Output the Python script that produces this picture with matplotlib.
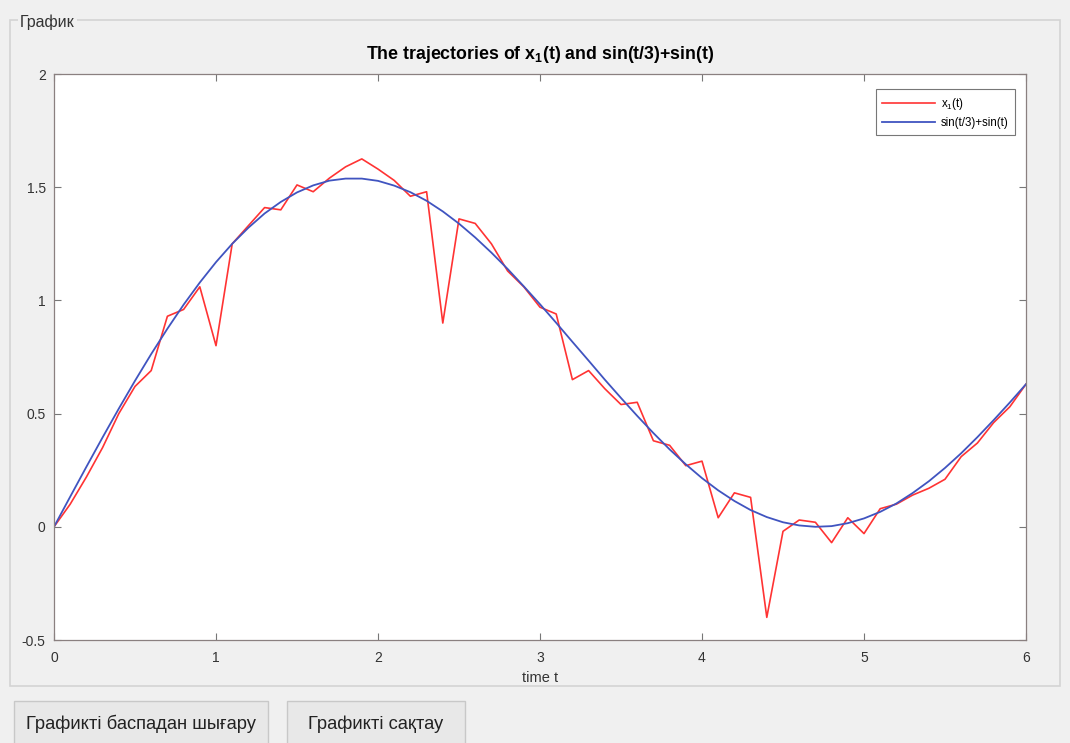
import matplotlib
matplotlib.use('Agg')
import matplotlib.pyplot as plt
from matplotlib.patches import Rectangle

# time grid (step 0.1)
t = [i / 10 for i in range(61)]

# x1(t)
x1 = [0.00, 0.10, 0.22, 0.35, 0.50, 0.62, 0.69, 0.93, 0.96, 1.06,
      0.80, 1.25, 1.33, 1.41, 1.40, 1.51, 1.48, 1.54, 1.59, 1.625,
      1.58, 1.53, 1.46, 1.48, 0.90, 1.36, 1.34, 1.25, 1.13, 1.06,
      0.97, 0.94, 0.65, 0.69, 0.61, 0.54, 0.55, 0.38, 0.36, 0.27,
      0.29, 0.04, 0.15, 0.13, -0.40, -0.02, 0.03, 0.02, -0.07, 0.04,
      -0.03, 0.08, 0.10, 0.14, 0.17, 0.21, 0.31, 0.37, 0.46, 0.53,
      0.63]

# sin(t/3)+sin(t)
ref = [0.000, 0.133, 0.265, 0.395, 0.522, 0.645, 0.763, 0.875, 0.981, 1.079,
       1.169, 1.250, 1.321, 1.384, 1.435, 1.477, 1.508, 1.529, 1.538, 1.538,
       1.528, 1.507, 1.478, 1.440, 1.393, 1.339, 1.278, 1.211, 1.139, 1.062,
       0.983, 0.901, 0.817, 0.734, 0.650, 0.569, 0.490, 0.414, 0.342, 0.276,
       0.215, 0.161, 0.114, 0.074, 0.043, 0.020, 0.006, 0.000, 0.003, 0.016,
       0.037, 0.066, 0.103, 0.149, 0.201, 0.260, 0.325, 0.396, 0.471, 0.549,
       0.630]

xticks = [0, 1, 2, 3, 4, 5, 6]
yticks = [-0.5, 0, 0.5, 1, 1.5, 2]
ytick_labels = ['-0.5', '0', '0.5', '1', '1.5', '2']

plt.rcParams['font.family'] = ['Liberation Sans', 'DejaVu Sans']
plt.rcParams['mathtext.fontset'] = 'custom'
plt.rcParams['mathtext.rm'] = 'Liberation Sans'
plt.rcParams['mathtext.it'] = 'Liberation Sans'
plt.rcParams['mathtext.bf'] = 'Liberation Sans:bold'

W, H = 1070, 743
bg = '#f0f0f0'
fig = plt.figure(figsize=(W / 100, H / 100), dpi=100, facecolor=bg)

def fx(px):
    return px / W

def fy(py):
    return 1 - py / H

# panel frame "График"
fig.patches.append(Rectangle((fx(10), fy(686)), fx(1060) - fx(10), fy(20) - fy(686),
                             transform=fig.transFigure, fill=False,
                             edgecolor='#d4d4d4', linewidth=1.2))
fig.text(fx(20), fy(22), 'График', fontsize=11.5, color='#333333', va='center', ha='left',
         bbox=dict(facecolor=bg, edgecolor='none', pad=1.5))

# buttons
for x0, x1b, label in [(14, 268, 'Графикті баспадан шығару'), (287, 465, 'Графикті сақтау')]:
    fig.patches.append(Rectangle((fx(x0), fy(745)), fx(x1b) - fx(x0), fy(701) - fy(745),
                                 transform=fig.transFigure, facecolor='#e8e8e8',
                                 edgecolor='#c8c8c8', linewidth=1.0))
    fig.text(fx((x0 + x1b) / 2), fy(724), label, fontsize=13.2, color='#222222',
             ha='center', va='center')

ax = fig.add_axes([fx(54), fy(640), fx(1026) - fx(54), fy(74) - fy(640)])
ax.set_facecolor('white')
ax.plot(t, x1, color='#ff3333', linewidth=1.2, label='x$_1$(t)')
ax.plot(t, ref, color='#4054c0', linewidth=1.3, label='sin(t/3)+sin(t)')

ax.set_xlim(0, 6)
ax.set_ylim(-0.5, 2)
ax.set_xticks(xticks)
ax.set_yticks(yticks)
ax.set_yticklabels(ytick_labels)
ax.tick_params(direction='in', length=5, width=0.8, color='#777777', labelcolor='#333333',
               labelsize=10, top=True, right=True)
ax.tick_params(axis='x', pad=8)
ax.tick_params(axis='y', pad=6)
for s in ax.spines.values():
    s.set_color('#8a8080')
    s.set_linewidth(0.9)

ax.set_xlabel('time t', fontsize=10.5, color='#333333', labelpad=4)
ax.set_title(r'The trajectories of $\mathbf{x_1}$(t) and sin(t/3)+sin(t)',
             fontsize=12.8, fontweight='bold', pad=11)

leg = ax.legend(loc='upper right', fontsize=8.3, frameon=True, fancybox=False,
                handlelength=4.6, borderpad=0.55, labelspacing=0.45, handletextpad=0.5,
                borderaxespad=0, bbox_to_anchor=(0.989, 0.973))
leg.get_frame().set_edgecolor('#555555')
leg.get_frame().set_linewidth(0.8)

fig.savefig('out.png', dpi=100, facecolor=bg)
